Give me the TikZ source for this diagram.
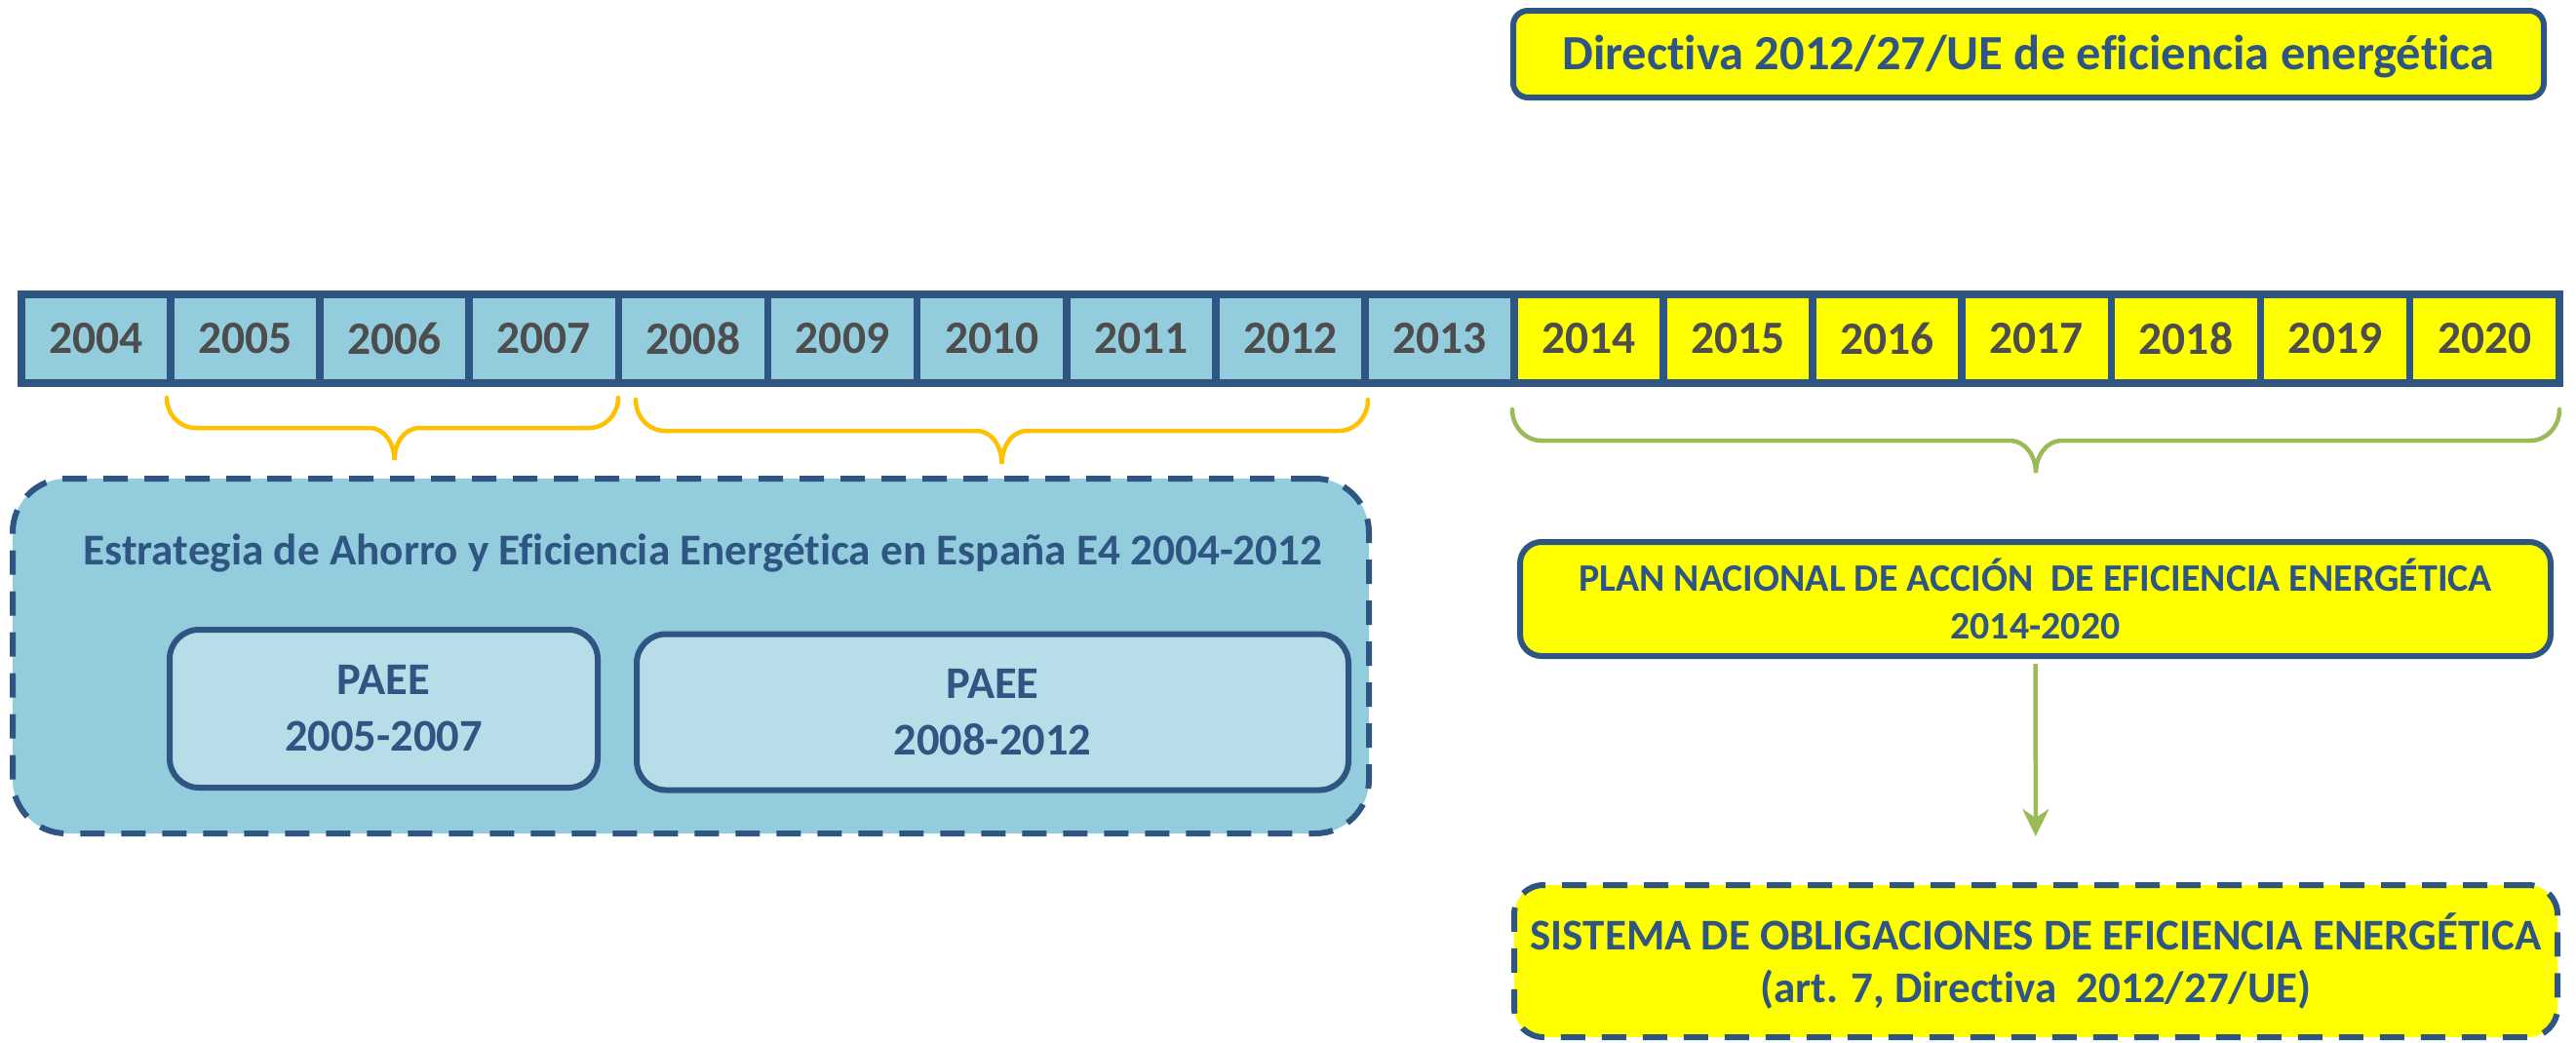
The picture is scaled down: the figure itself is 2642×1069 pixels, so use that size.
\documentclass[tikz,border=0pt]{standalone}
\usepackage{fontspec}
\setmainfont{Carlito}[Ligatures=NoCommon]
\usetikzlibrary{positioning,arrows.meta}

\definecolor{frameblue}{HTML}{2F5583}
\definecolor{aqua}{HTML}{93CDDD}
\definecolor{paleaqua}{HTML}{B7DEE8}
\definecolor{planyellow}{HTML}{FFFF00}
\definecolor{yeargray}{HTML}{4D4D4D}
\definecolor{braceorange}{HTML}{FFC000}
\definecolor{bracegreen}{HTML}{9BBB59}

\begin{document}
\begin{tikzpicture}[x=1pt, y=1pt,
    yearcell/.style={draw=frameblue, line width=7.7pt, outer sep=0pt, inner sep=0pt,
        minimum width=153.1pt, minimum height=91pt, text=yeargray,
        font=\fontsize{47.5}{57}\selectfont\bfseries},
    pastyear/.style={yearcell, fill=aqua},
    planyear/.style={yearcell, fill=planyellow},
    solidbox/.style={draw=frameblue, line width=6pt, rounded corners=15pt,
        inner sep=0pt, text=frameblue, align=center},
    dashbox/.style={solidbox, dash pattern=on 25pt off 17pt},
    bracepath/.style={line width=4.5pt, line cap=round},
    flowarrow/.style={draw=bracegreen, line width=4.5pt,
        -{Stealth[length=28pt, width=27pt, inset=9pt]}}
]

    % Fix the page to the size of the reference
    \useasboundingbox (0,0) rectangle (2642,-1069);

    % The row of years
    \node[pastyear] (y2004) at (98.55,-347.5) {2004};
    \node[pastyear, right=0pt of y2004] (y2005) {2005};
    \node[pastyear, right=0pt of y2005] (y2006) {2006};
    \node[pastyear, right=0pt of y2006] (y2007) {2007};
    \node[pastyear, right=0pt of y2007] (y2008) {2008};
    \node[pastyear, right=0pt of y2008] (y2009) {2009};
    \node[pastyear, right=0pt of y2009] (y2010) {2010};
    \node[pastyear, right=0pt of y2010] (y2011) {2011};
    \node[pastyear, right=0pt of y2011] (y2012) {2012};
    \node[pastyear, right=0pt of y2012] (y2013) {2013};
    \node[planyear, right=0pt of y2013] (y2014) {2014};
    \node[planyear, right=0pt of y2014] (y2015) {2015};
    \node[planyear, right=0pt of y2015] (y2016) {2016};
    \node[planyear, right=0pt of y2016] (y2017) {2017};
    \node[planyear, right=0pt of y2017] (y2018) {2018};
    \node[planyear, right=0pt of y2018] (y2019) {2019};
    \node[planyear, right=0pt of y2019] (y2020) {2020};

    % The directive on top
    \node[solidbox, fill=planyellow, minimum width=1057pt, minimum height=89pt,
        text height=32pt, text depth=0pt,
        font=\fontsize{50.5}{60}\selectfont\bfseries] (directiva) at (2080.5,-55.5)
        {Directiva 2012/27/UE de eficiencia energética};

    % Braces under the years
    \draw[bracepath, braceorange] (171,-408) to[out=-90,in=180] (201,-439)
        -- (378.5,-439) to[out=0,in=90] (404.5,-472) to[out=90,in=180] (430.5,-439)
        -- (604,-439) to[out=0,in=-90] (634,-408);
    \draw[bracepath, braceorange] (652,-410) to[out=-90,in=180] (682,-442)
        -- (1001.5,-442) to[out=0,in=90] (1027.5,-476) to[out=90,in=180] (1053.5,-442)
        -- (1373,-442) to[out=0,in=-90] (1403,-410);
    \draw[bracepath, bracegreen] (1551,-420) to[out=-90,in=180] (1581,-452)
        -- (2061,-452) to[out=0,in=90] (2088,-485) to[out=90,in=180] (2115,-452)
        -- (2595,-452) to[out=0,in=-90] (2625,-420);

    % The strategy 2004-2012 and its two plans
    \node[dashbox, fill=aqua, rounded corners=55pt, minimum width=1391pt,
        minimum height=364pt] (estrategia) at (708.5,-673) {};
    \node[anchor=base, text=frameblue, font=\fontsize{45.2}{54}\selectfont\bfseries]
        (e4title) at (721,-579)
        {Estrategia de Ahorro y Eficiencia Energética en España E4 2004-2012};
    \node[solidbox, fill=paleaqua, rounded corners=30pt, minimum width=439pt,
        minimum height=162pt, font=\fontsize{46.5}{58}\selectfont\bfseries]
        (paee1) at (393.5,-727) {PAEE\\2005-2007};
    \node[solidbox, fill=paleaqua, rounded corners=30pt, minimum width=730pt,
        minimum height=160pt, font=\fontsize{46.5}{58}\selectfont\bfseries]
        (paee2) at (1018,-730.5) {PAEE\\2008-2012};

    % National plan and obligation scheme
    \node[solidbox, fill=planyellow, rounded corners=22pt, minimum width=1057pt,
        minimum height=117pt, font=\fontsize{39.9}{49}\selectfont\bfseries]
        (plan) at (2087.5,-614.5)
        {PLAN NACIONAL DE ACCIÓN~ DE EFICIENCIA ENERGÉTICA\\2014-2020};
    \node[dashbox, fill=planyellow, rounded corners=30pt, minimum width=1070pt,
        minimum height=156pt, font=\fontsize{45}{54}\selectfont\bfseries]
        (sistema) at (2088,-986)
        {SISTEMA DE OBLIGACIONES DE EFICIENCIA ENERGÉTICA\\(art. 7, Directiva~ 2012/27/UE)};

    \draw[flowarrow, shorten <=5pt, shorten >=47pt] (plan) -- (sistema);

\end{tikzpicture}
\end{document}
